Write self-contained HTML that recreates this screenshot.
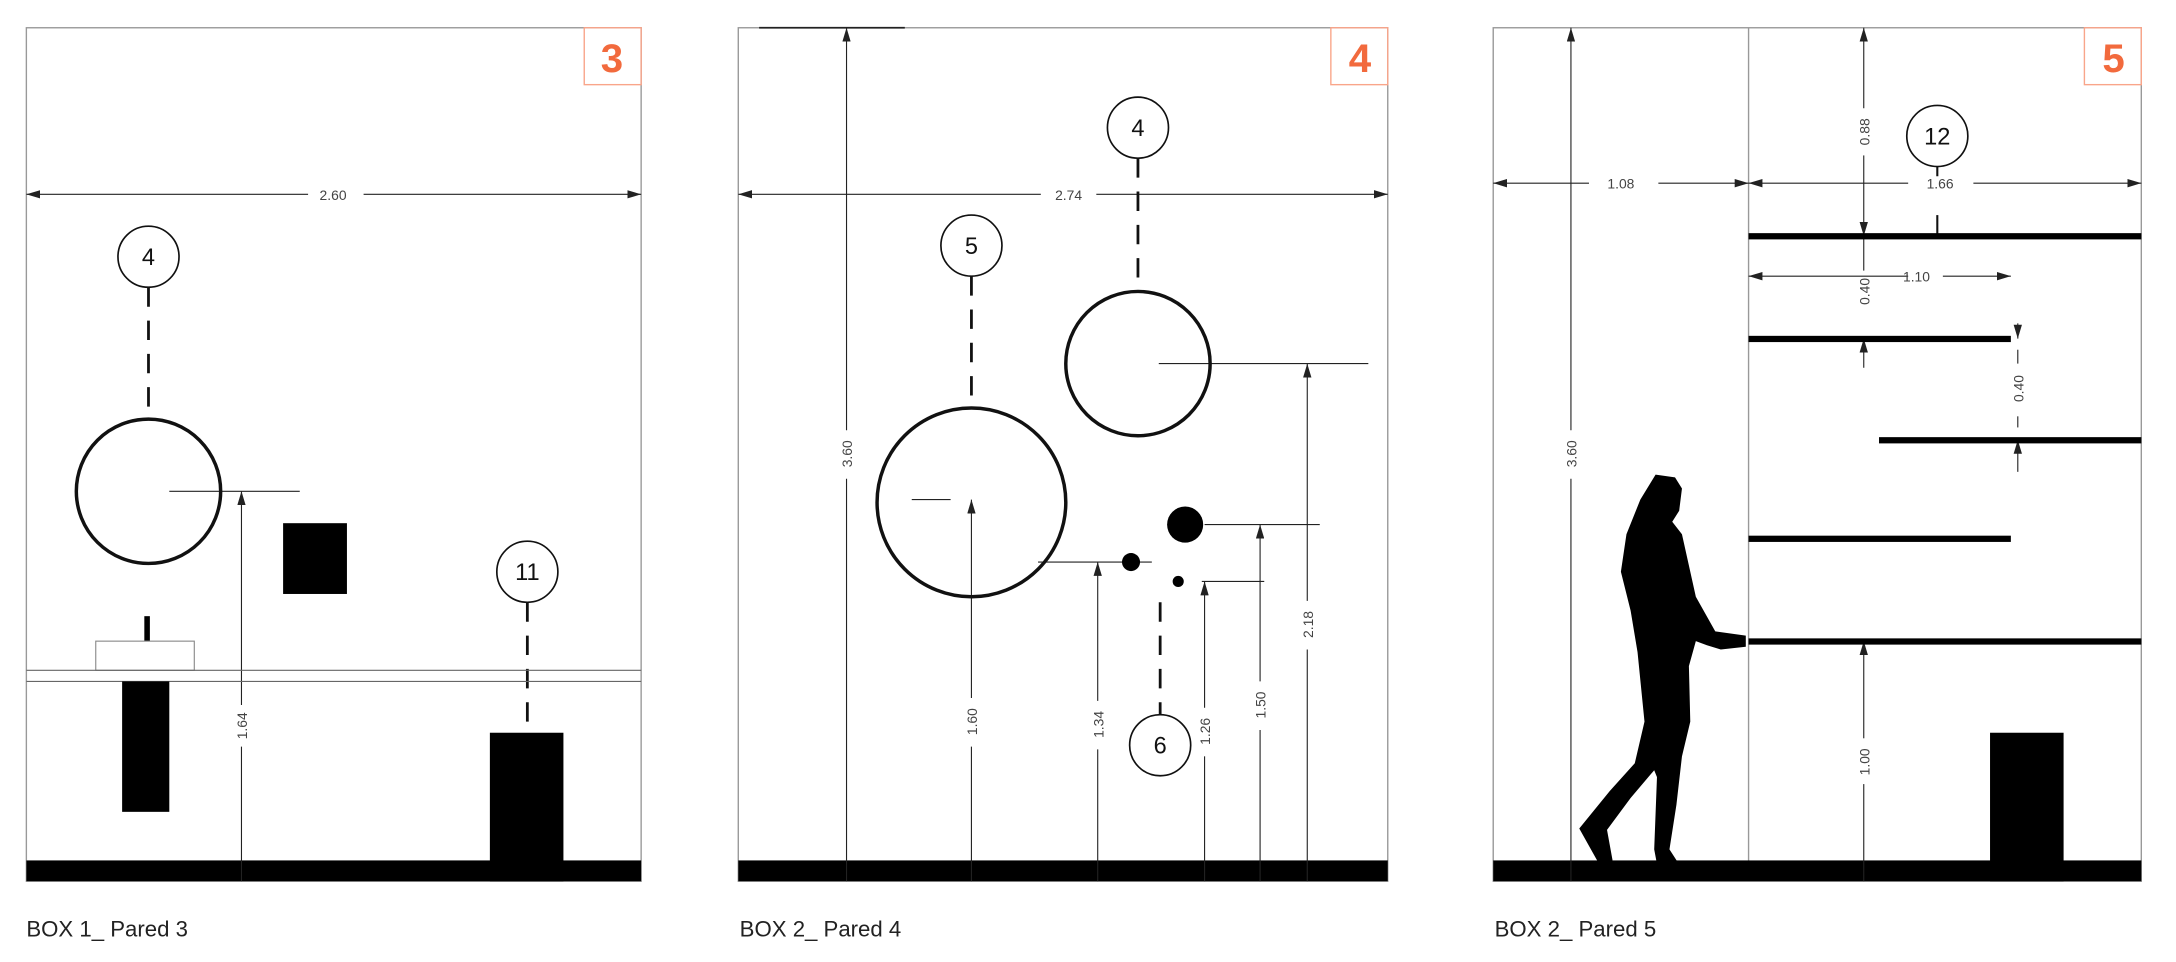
<!DOCTYPE html>
<html><head><meta charset="utf-8"><style>
html,body{margin:0;padding:0;background:#fff;width:2176px;height:962px;overflow:hidden}
svg{display:block}
text{font-family:"Liberation Sans",sans-serif}
</style></head><body>
<svg width="2176" height="962" viewBox="0 0 1568 693.2" preserveAspectRatio="none" xmlns="http://www.w3.org/2000/svg">
<defs>
<marker id="a" viewBox="0 0 10 6" refX="10" refY="3" markerWidth="10" markerHeight="6" orient="auto-start-reverse" markerUnits="userSpaceOnUse"><path d="M0,0 L10,3 L0,6z" fill="#222"/></marker>
</defs>
<g fill="none" stroke="#999" stroke-width="1">
<rect x="19" y="20" width="443" height="615"/>
<rect x="532" y="20" width="468" height="615"/>
<rect x="1076" y="20" width="467" height="615"/>
<line x1="1260" y1="20" x2="1260" y2="635"/>
</g>
<!-- orange tags -->
<g fill="none" stroke="#f9a58a" stroke-width="1">
<rect x="421" y="20" width="41" height="41"/><rect x="959" y="20" width="41" height="41"/><rect x="1502" y="20" width="41" height="41"/>
</g>
<g fill="#f26a3d" font-weight="bold" font-size="29" text-anchor="middle">
<text x="441" y="52">3</text><text x="980" y="52">4</text><text x="1523" y="52">5</text>
</g>
<!-- floors -->
<g fill="#000"><rect x="19" y="620" width="443" height="15"/><rect x="532" y="620" width="468" height="15"/><rect x="1076" y="620" width="467" height="15"/></g>

<!-- dimension lines -->
<g stroke="#222" stroke-width="0.8" fill="none">
<line x1="19" y1="140" x2="222" y2="140" marker-start="url(#a)"/><line x1="262" y1="140" x2="462" y2="140" marker-end="url(#a)"/>
<line x1="122" y1="354" x2="216" y2="354"/>
<line x1="174" y1="635" x2="174" y2="538"/><line x1="174" y1="508" x2="174" y2="354" marker-end="url(#a)"/>
<line x1="532" y1="140" x2="750" y2="140" marker-start="url(#a)"/><line x1="790" y1="140" x2="1000" y2="140" marker-end="url(#a)"/>
<line x1="547" y1="20" x2="652" y2="20" stroke-width="1.2"/>
<line x1="610" y1="635" x2="610" y2="345"/><line x1="610" y1="310" x2="610" y2="20" marker-end="url(#a)"/>
<line x1="835" y1="262" x2="986" y2="262"/>
<line x1="942" y1="635" x2="942" y2="468"/><line x1="942" y1="433" x2="942" y2="262" marker-end="url(#a)"/>
<line x1="657" y1="360" x2="685" y2="360"/>
<line x1="700" y1="635" x2="700" y2="538"/><line x1="700" y1="503" x2="700" y2="360" marker-end="url(#a)"/>
<line x1="868" y1="378" x2="951" y2="378"/>
<line x1="908" y1="635" x2="908" y2="526"/><line x1="908" y1="491" x2="908" y2="378" marker-end="url(#a)"/>
<line x1="748" y1="405" x2="830" y2="405"/>
<line x1="791" y1="635" x2="791" y2="540"/><line x1="791" y1="505" x2="791" y2="405" marker-end="url(#a)"/>
<line x1="866" y1="419" x2="911" y2="419"/>
<line x1="868" y1="635" x2="868" y2="545"/><line x1="868" y1="510" x2="868" y2="419" marker-end="url(#a)"/>
<line x1="1132" y1="635" x2="1132" y2="345"/><line x1="1132" y1="310" x2="1132" y2="20" marker-end="url(#a)"/>
<line x1="1076" y1="132" x2="1145" y2="132" marker-start="url(#a)"/><line x1="1195" y1="132" x2="1260" y2="132" marker-end="url(#a)"/>
<line x1="1260" y1="132" x2="1375" y2="132" marker-start="url(#a)"/><line x1="1422" y1="132" x2="1543" y2="132" marker-end="url(#a)"/>
<line x1="1343" y1="78" x2="1343" y2="20" marker-end="url(#a)"/><line x1="1343" y1="112" x2="1343" y2="170" marker-end="url(#a)"/>
<line x1="1260" y1="199" x2="1375" y2="199" marker-start="url(#a)"/><line x1="1400" y1="199" x2="1449" y2="199" marker-end="url(#a)"/>
<line x1="1343" y1="170" x2="1343" y2="195"/><line x1="1343" y1="265" x2="1343" y2="244" marker-end="url(#a)"/>
<line x1="1454" y1="233" x2="1454" y2="244" marker-end="url(#a)"/><line x1="1454" y1="262" x2="1454" y2="252"/>
<line x1="1454" y1="340" x2="1454" y2="317" marker-end="url(#a)"/><line x1="1454" y1="300" x2="1454" y2="308"/>
<line x1="1343" y1="635" x2="1343" y2="565"/><line x1="1343" y1="532" x2="1343" y2="462" marker-end="url(#a)"/>
</g>
<g fill="#444" font-size="10" text-anchor="middle">
<text x="240" y="144">2.60</text><text x="770" y="144">2.74</text>
<text x="1168" y="136">1.08</text><text x="1398" y="136">1.66</text><text x="1381" y="203">1.10</text>
<g transform="translate(178,523) rotate(-90)"><text>1.64</text></g>
<g transform="translate(614,327) rotate(-90)"><text>3.60</text></g>
<g transform="translate(946,450) rotate(-90)"><text>2.18</text></g>
<g transform="translate(704,520) rotate(-90)"><text>1.60</text></g>
<g transform="translate(912,508) rotate(-90)"><text>1.50</text></g>
<g transform="translate(795,522) rotate(-90)"><text>1.34</text></g>
<g transform="translate(872,527) rotate(-90)"><text>1.26</text></g>
<g transform="translate(1136,327) rotate(-90)"><text>3.60</text></g>
<g transform="translate(1347,95) rotate(-90)"><text>0.88</text></g>
<g transform="translate(1347,210) rotate(-90)"><text>0.40</text></g>
<g transform="translate(1458,280) rotate(-90)"><text>0.40</text></g>
<g transform="translate(1347,549) rotate(-90)"><text>1.00</text></g>
</g>

<!-- callouts -->
<g fill="#fff" stroke="#111" stroke-width="1.2">
<circle cx="107" cy="185" r="22"/><circle cx="380" cy="412" r="22"/>
<circle cx="820" cy="92" r="22"/><circle cx="700" cy="177" r="22"/><circle cx="836" cy="537" r="22"/>
<circle cx="1396" cy="98" r="22"/>
</g>
<g fill="#111" font-size="17" text-anchor="middle">
<text x="107" y="191">4</text><text x="380" y="418">11</text>
<text x="820" y="98">4</text><text x="700" y="183">5</text><text x="836" y="543">6</text><text x="1396" y="104">12</text>
</g>
<g stroke="#111" stroke-width="2" stroke-dasharray="14,10" fill="none">
<line x1="107" y1="207" x2="107" y2="300"/>
<line x1="380" y1="434" x2="380" y2="528"/>
<line x1="820" y1="114" x2="820" y2="210"/>
<line x1="700" y1="199" x2="700" y2="293"/>
<line x1="836" y1="434" x2="836" y2="515"/>
</g>
<line x1="1396" y1="120" x2="1396" y2="127" stroke="#111" stroke-width="1.5"/>
<line x1="1396" y1="155" x2="1396" y2="170" stroke="#111" stroke-width="1.5"/>

<!-- panel 1 objects -->
<circle cx="107" cy="354" r="52" fill="none" stroke="#111" stroke-width="2.5"/>
<rect x="204" y="377" width="46" height="51" fill="#000"/>
<rect x="104" y="444" width="4" height="18" fill="#000"/>
<rect x="69" y="462" width="71" height="21" fill="none" stroke="#888" stroke-width="0.8"/>
<line x1="19" y1="483" x2="462" y2="483" stroke="#666" stroke-width="0.8"/>
<line x1="19" y1="491" x2="462" y2="491" stroke="#666" stroke-width="0.8"/>
<rect x="88" y="491" width="34" height="94" fill="#000"/>
<rect x="353" y="528" width="53" height="107" fill="#000"/>

<!-- panel 2 objects -->
<circle cx="820" cy="262" r="52" fill="none" stroke="#111" stroke-width="2.5"/>
<circle cx="700" cy="362" r="68" fill="none" stroke="#111" stroke-width="2.5"/>
<circle cx="854" cy="378" r="13" fill="#000"/>
<circle cx="815" cy="405" r="6.5" fill="#000"/>
<circle cx="849" cy="419" r="4" fill="#000"/>

<!-- panel 3 objects -->
<g fill="#000">
<rect x="1260" y="168" width="283" height="4.5"/>
<rect x="1260" y="242" width="189" height="4.5"/>
<rect x="1354" y="315" width="189" height="4.5"/>
<rect x="1260" y="386" width="189" height="4.5"/>
<rect x="1260" y="460" width="283" height="4.5"/>
<rect x="1434" y="528" width="53" height="107"/>
<polygon points="1193,342 1207,344 1212,352 1210,368 1205,376 1212,385 1222,430 1236,455 1258,458 1258,466 1240,468 1230,465 1222,462 1217,480 1218,520 1212,545 1208,580 1203,612 1212,626 1195,628 1192,612 1194,560 1192,555 1175,575 1158,598 1162,620 1152,622 1138,597 1160,570 1178,550 1185,520 1180,470 1175,440 1168,412 1172,385 1182,360"/>
</g>

<!-- captions -->
<g fill="#222" font-size="16">
<text x="19" y="675">BOX 1_ Pared 3</text>
<text x="533" y="675">BOX 2_ Pared 4</text>
<text x="1077" y="675">BOX 2_ Pared 5</text>
</g>
</svg>
</body></html>
